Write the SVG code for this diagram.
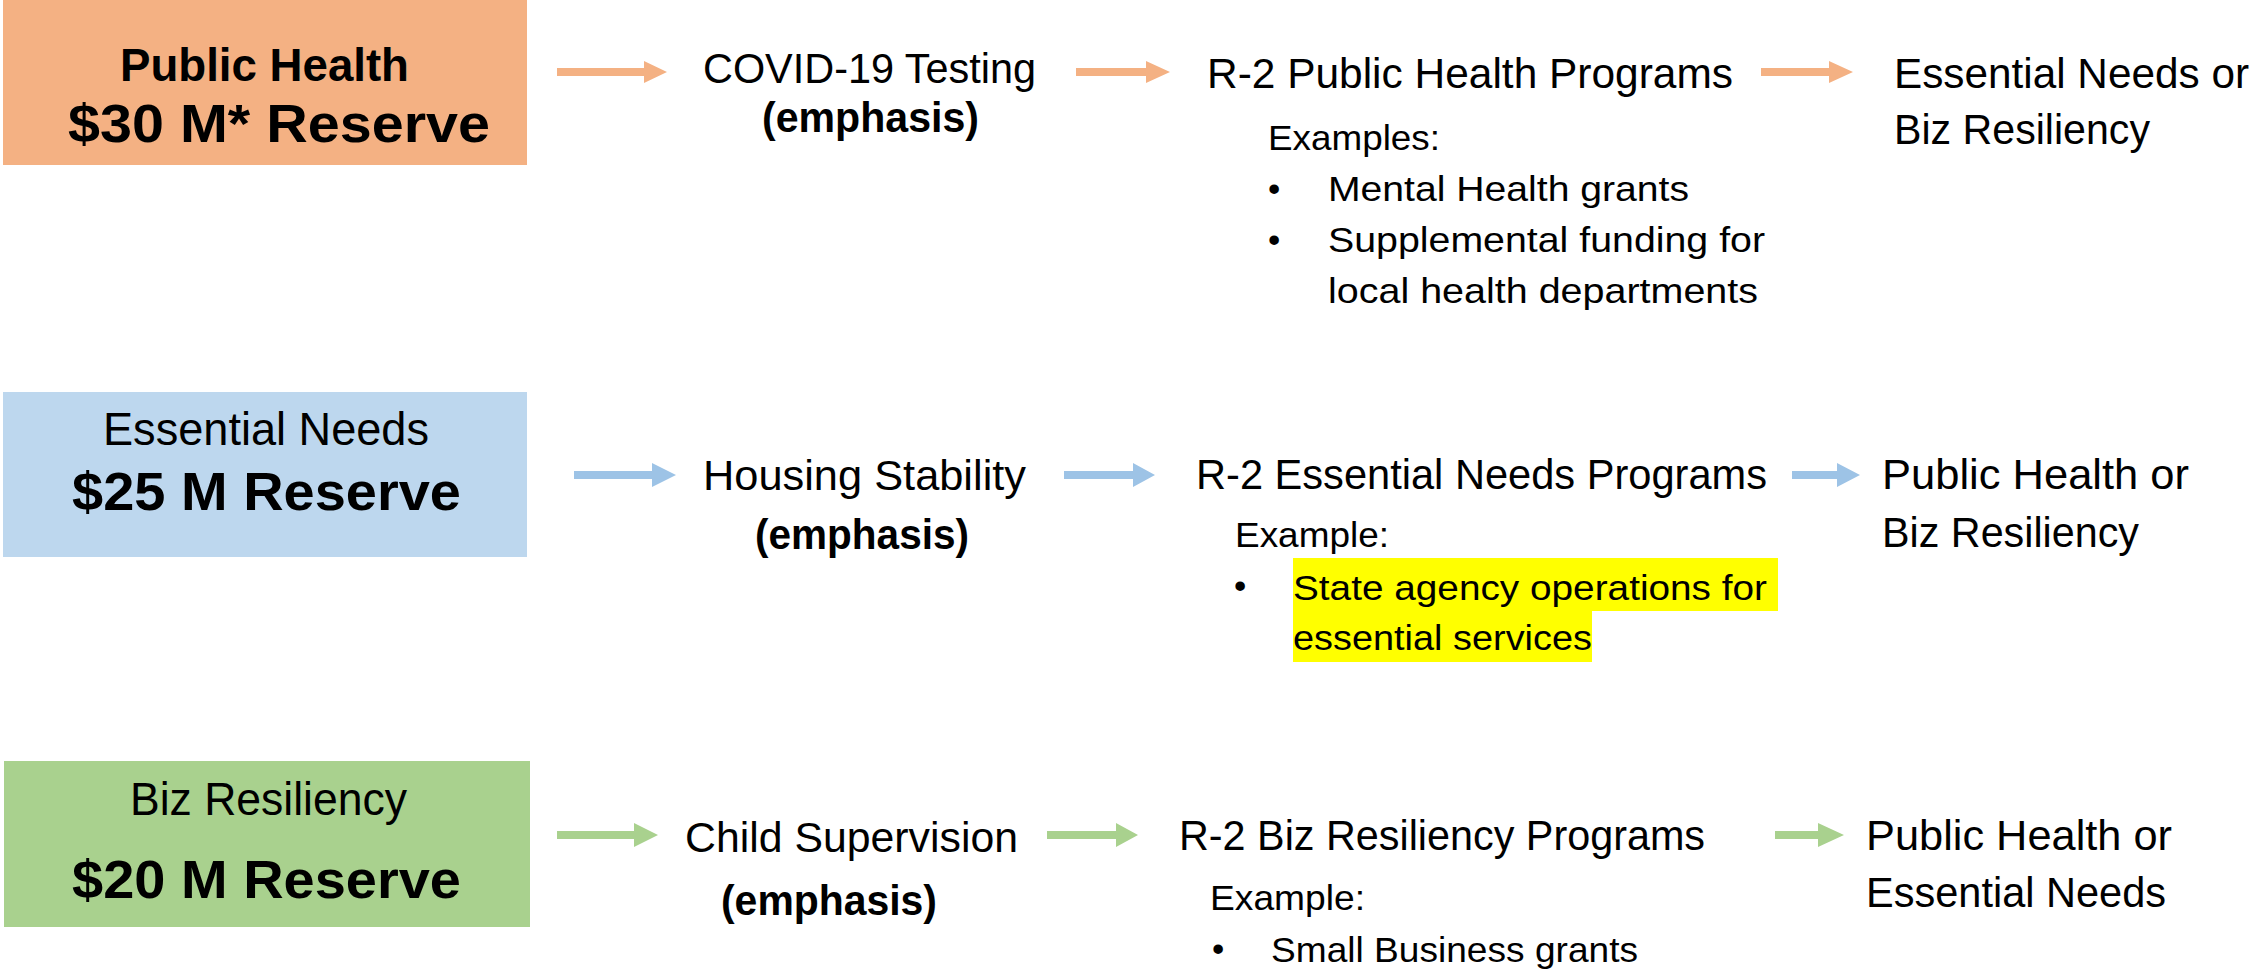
<svg xmlns="http://www.w3.org/2000/svg" width="2255" height="970" viewBox="0 0 2255 970">
<style>
text{font-family:"Liberation Sans",Arial,sans-serif;fill:#000}
.m{font-size:42px}
.s{font-size:35px}
.bh{font-size:47px}
.bb{font-size:54px;font-weight:bold}
.b{font-weight:bold}
.ao{fill:#F4B183}
.ab{fill:#9DC3E6}
.ag{fill:#A9D18E}
</style>
<rect width="2255" height="970" fill="#fff"/>
<g id="connectors">
<polygon class="ao" points="557,68 644,68 644,61 667,72 644,83 644,76 557,76"/>
<polygon class="ao" points="1076,68 1146,68 1146,61 1170,72 1146,83 1146,76 1076,76"/>
<polygon class="ao" points="1761,68 1829,68 1829,61 1853,72 1829,83 1829,76 1761,76"/>
<polygon class="ab" points="574,471 652,471 652,463 676,475 652,487 652,479 574,479"/>
<polygon class="ab" points="1064,471 1133,471 1133,463 1155,475 1133,487 1133,479 1064,479"/>
<polygon class="ab" points="1792,471 1837,471 1837,463 1860,475 1837,487 1837,479 1792,479"/>
<polygon class="ag" points="557,831 634,831 634,823 658,835 634,847 634,839 557,839"/>
<polygon class="ag" points="1047,831 1116,831 1116,823 1138,835 1116,847 1116,839 1047,839"/>
<polygon class="ag" points="1775,831 1818,831 1818,823 1844,835 1818,847 1818,839 1775,839"/>
</g>
<g id="ph-reserve">
<rect x="3" y="0" width="524" height="165" fill="#F4B183"/>
<text class="bh b" x="120" y="81" textLength="289" lengthAdjust="spacingAndGlyphs">Public Health</text>
<text class="bb" x="68" y="142" textLength="422" lengthAdjust="spacingAndGlyphs">$30 M* Reserve</text>
</g>
<g id="covid-testing">
<text class="m" x="703" y="83" textLength="333" lengthAdjust="spacingAndGlyphs">COVID-19 Testing</text>
<text class="m b" x="762" y="132" textLength="217" lengthAdjust="spacingAndGlyphs">(emphasis)</text>
</g>
<g id="r2-ph">
<text class="m" x="1207" y="88" textLength="526" lengthAdjust="spacingAndGlyphs">R-2 Public Health Programs</text>
<text class="s" x="1268" y="150" textLength="172" lengthAdjust="spacingAndGlyphs">Examples:</text>
<text class="s" x="1268" y="201">•</text>
<text class="s" x="1328" y="201" textLength="361" lengthAdjust="spacingAndGlyphs">Mental Health grants</text>
<text class="s" x="1268" y="252">•</text>
<text class="s" x="1328" y="252" textLength="437" lengthAdjust="spacingAndGlyphs">Supplemental funding for</text>
<text class="s" x="1328" y="303" textLength="430" lengthAdjust="spacingAndGlyphs">local health departments</text>
</g>
<g id="ph-next">
<text class="m" x="1894" y="88" textLength="355" lengthAdjust="spacingAndGlyphs">Essential Needs or</text>
<text class="m" x="1894" y="144" textLength="256" lengthAdjust="spacingAndGlyphs">Biz Resiliency</text>
</g>
<g id="en-reserve">
<rect x="3" y="392" width="524" height="165" fill="#BDD7EE"/>
<text class="bh" x="103" y="445" textLength="326" lengthAdjust="spacingAndGlyphs">Essential Needs</text>
<text class="bb" x="72" y="510" textLength="389" lengthAdjust="spacingAndGlyphs">$25 M Reserve</text>
</g>
<g id="housing">
<text class="m" x="703" y="490" textLength="323" lengthAdjust="spacingAndGlyphs">Housing Stability</text>
<text class="m b" x="755" y="549" textLength="214" lengthAdjust="spacingAndGlyphs">(emphasis)</text>
</g>
<g id="r2-en">
<text class="m" x="1196" y="489" textLength="571" lengthAdjust="spacingAndGlyphs">R-2 Essential Needs Programs</text>
<text class="s" x="1235" y="547" textLength="154" lengthAdjust="spacingAndGlyphs">Example:</text>
<rect x="1293" y="558" width="485" height="53" fill="#FFFF00"/>
<rect x="1293" y="611" width="299" height="51" fill="#FFFF00"/>
<text class="s" x="1234" y="598">•</text>
<text class="s" x="1293" y="600" textLength="474" lengthAdjust="spacingAndGlyphs">State agency operations for</text>
<text class="s" x="1293" y="650" textLength="299" lengthAdjust="spacingAndGlyphs">essential services</text>
</g>
<g id="en-next">
<text class="m" x="1882" y="489" textLength="307" lengthAdjust="spacingAndGlyphs">Public Health or</text>
<text class="m" x="1882" y="547" textLength="257" lengthAdjust="spacingAndGlyphs">Biz Resiliency</text>
</g>
<g id="br-reserve">
<rect x="4" y="761" width="526" height="166" fill="#A9D18E"/>
<text class="bh" x="130" y="815" textLength="277" lengthAdjust="spacingAndGlyphs">Biz Resiliency</text>
<text class="bb" x="72" y="898" textLength="389" lengthAdjust="spacingAndGlyphs">$20 M Reserve</text>
</g>
<g id="child">
<text class="m" x="685" y="852" textLength="333" lengthAdjust="spacingAndGlyphs">Child Supervision</text>
<text class="m b" x="721" y="915" textLength="216" lengthAdjust="spacingAndGlyphs">(emphasis)</text>
</g>
<g id="r2-br">
<text class="m" x="1179" y="850" textLength="526" lengthAdjust="spacingAndGlyphs">R-2 Biz Resiliency Programs</text>
<text class="s" x="1210" y="910" textLength="155" lengthAdjust="spacingAndGlyphs">Example:</text>
<text class="s" x="1212" y="961">•</text>
<text class="s" x="1271" y="962" textLength="367" lengthAdjust="spacingAndGlyphs">Small Business grants</text>
</g>
<g id="br-next">
<text class="m" x="1866" y="850" textLength="306" lengthAdjust="spacingAndGlyphs">Public Health or</text>
<text class="m" x="1866" y="907" textLength="300" lengthAdjust="spacingAndGlyphs">Essential Needs</text>
</g>
</svg>
